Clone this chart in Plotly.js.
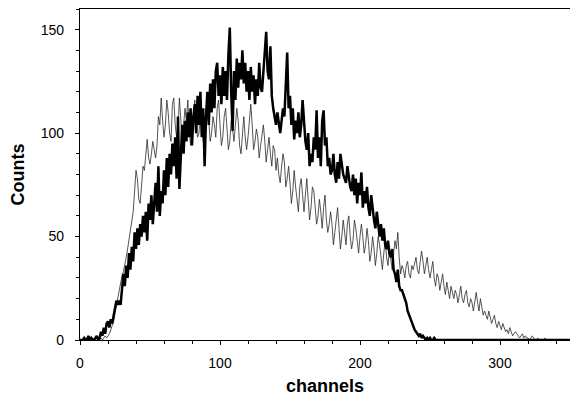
<!DOCTYPE html>
<html>
<head>
<meta charset="utf-8">
<script src="https://cdn.plot.ly/plotly-3.0.1.min.js"></script>
<style>html,body{margin:0;padding:0;background:#fff;}#chart{width:570px;height:396px;}</style>
</head>
<body>
<div id="chart"></div>
<script>
// Counts per channel (channel index = array position)
const thickCounts = [
  0,0,0,1,0,0,2,0,1,0,
  0,1,2,0,1,4,2,6,3,8,
  9,6,10,8,12,16,19,17,19,17,
  24,32,26,36,30,42,34,45,38,52,
  44,54,46,56,50,60,52,62,48,66,
  58,70,56,64,76,62,84,60,72,66,
  82,70,88,74,90,80,95,84,98,78,
  108,73,94,104,90,106,96,110,98,112,
  94,108,114,100,118,104,120,98,112,84,
  108,120,104,124,110,126,112,130,134,118,
  128,114,132,118,130,116,138,151,120,101,
  130,116,136,122,134,126,140,124,134,120,
  130,116,132,120,128,114,126,118,134,122,
  120,130,136,149,130,126,142,118,112,108,
  104,110,106,100,106,112,108,124,139,112,
  118,104,112,97,106,100,110,98,104,116,
  104,96,92,100,84,90,86,98,92,111,
  88,98,84,106,111,94,98,84,88,80,
  82,90,80,76,86,78,90,84,80,78,
  76,84,78,74,72,80,70,78,66,76,
  70,81,64,72,66,74,64,60,70,62,
  58,54,62,56,50,56,48,54,46,44,
  48,42,40,44,34,32,28,34,26,24,
  24,22,20,18,14,12,10,8,6,5,
  4,3,2,3,1,2,1,0,1,0,
  1,0,0,1,0,0,0,0,0,0,
  0,0,0,0,0,0,0,0,0,0,
  0,0,0,0,0,0,0,0,0,0,
  0,0,0,0,0,0,0,0,0,0,
  0,0,0,0,0,0,0,0,0,0,
  0,0,0,0,0,0,0,0,0,0,
  0,0,0,0,0,0,0,0,0,0,
  0,0,0,0,0,0,0,0,0,0,
  0,0,0,0,0,0,0,0,0,0,
  0,0,0,0,0,0,0,0,0,0,
  0
];
const thinCounts = [
  0,0,0,0,0,1,0,0,0,1,
  0,0,1,0,0,1,0,1,2,1,
  2,3,5,7,9,13,17,20,24,28,
  31,33,36,40,44,48,53,56,62,72,
  82,78,68,66,74,84,82,88,97,88,
  85,90,96,92,88,94,108,104,117,106,
  98,104,116,110,100,96,114,117,104,98,
  102,117,108,96,104,112,106,116,102,94,
  100,110,116,104,98,100,114,108,96,104,
  112,118,106,96,100,108,104,98,112,116,
  104,94,98,108,112,100,92,96,106,102,
  96,104,112,106,94,90,100,108,98,92,
  98,106,114,104,92,96,102,98,88,94,
  100,104,96,86,92,98,90,84,94,92,
  82,88,80,76,84,90,86,74,78,84,
  76,66,72,82,74,66,62,74,78,70,
  62,70,78,68,58,64,74,72,62,56,
  60,68,62,54,64,70,58,52,56,62,
  56,46,52,60,64,54,44,50,58,52,
  46,56,60,50,44,48,58,54,46,42,
  50,56,50,42,46,54,48,38,42,50,
  44,36,42,50,46,38,34,42,48,40,
  36,44,40,34,42,48,44,52,40,32,
  36,34,30,36,38,32,30,36,34,38,
  40,34,32,38,43,38,32,36,40,34,
  30,34,38,30,26,32,30,24,28,32,
  26,22,28,24,20,26,22,20,24,22,
  18,22,26,20,18,22,24,18,16,20,
  18,14,20,23,18,14,20,16,12,14,
  12,10,14,11,8,10,12,8,6,9,
  7,5,8,6,4,5,3,6,4,2,
  3,4,3,2,1,2,3,1,2,1,
  1,0,1,2,1,0,0,1,0,0,
  0,0,1,0,0,0,0,0,0,0,
  0,0,0,0,0,0,0,0,0,0,
  0
];
const xTickVals = [0, 100, 200, 300];
const xTickText = ['0', '100', '200', '300'];
const yTickVals = [0, 50, 100, 150];
const yTickText = ['0', '50', '100', '150'];
const xTitle = 'channels';
const yTitle = 'Counts';

const channelsThick = thickCounts.map((_, i) => i);
const channelsThin = thinCounts.map((_, i) => i);

const font = 'Liberation Sans, Arial, sans-serif';
const traces = [
  {x: channelsThin, y: thinCounts, type: 'scatter', mode: 'lines',
   line: {color: '#2a2a2a', width: 0.8}, hoverinfo: 'skip'},
  {x: channelsThick, y: thickCounts, type: 'scatter', mode: 'lines',
   line: {color: '#000000', width: 2.5}, hoverinfo: 'skip'}
];
const layout = {
  width: 570, height: 396,
  margin: {l: 80, r: 0, t: 9, b: 56},
  paper_bgcolor: '#ffffff', plot_bgcolor: '#ffffff',
  showlegend: false,
  font: {family: font, size: 14, color: '#000'},
  xaxis: {
    range: [0, 350], showgrid: false, zeroline: false,
    showline: true, linecolor: '#000', linewidth: 1.2, mirror: true,
    tickmode: 'array', tickvals: xTickVals, ticktext: xTickText,
    ticks: 'outside', ticklen: 4, tickcolor: '#000', tickwidth: 1,
    ticklabelstandoff: 6,
    minor: {dtick: 20, tick0: 0, ticks: 'outside', ticklen: 3, tickcolor: '#000', showgrid: false},
    title: {text: xTitle, font: {family: font, size: 18, weight: 'bold'}, standoff: 12}
  },
  yaxis: {
    range: [0, 160], showgrid: false, zeroline: false,
    showline: true, linecolor: '#000', linewidth: 1.2,
    tickmode: 'array', tickvals: yTickVals, ticktext: yTickText,
    ticks: 'outside', ticklen: 4, tickcolor: '#000', tickwidth: 1,
    ticklabelstandoff: 8,
    minor: {dtick: 10, tick0: 0, ticks: 'outside', ticklen: 3, tickcolor: '#000', showgrid: false},
    title: {text: yTitle, font: {family: font, size: 18, weight: 'bold'}, standoff: 11}
  }
};
Plotly.newPlot('chart', traces, layout, {staticPlot: true, displayModeBar: false});
</script>
</body>
</html>
